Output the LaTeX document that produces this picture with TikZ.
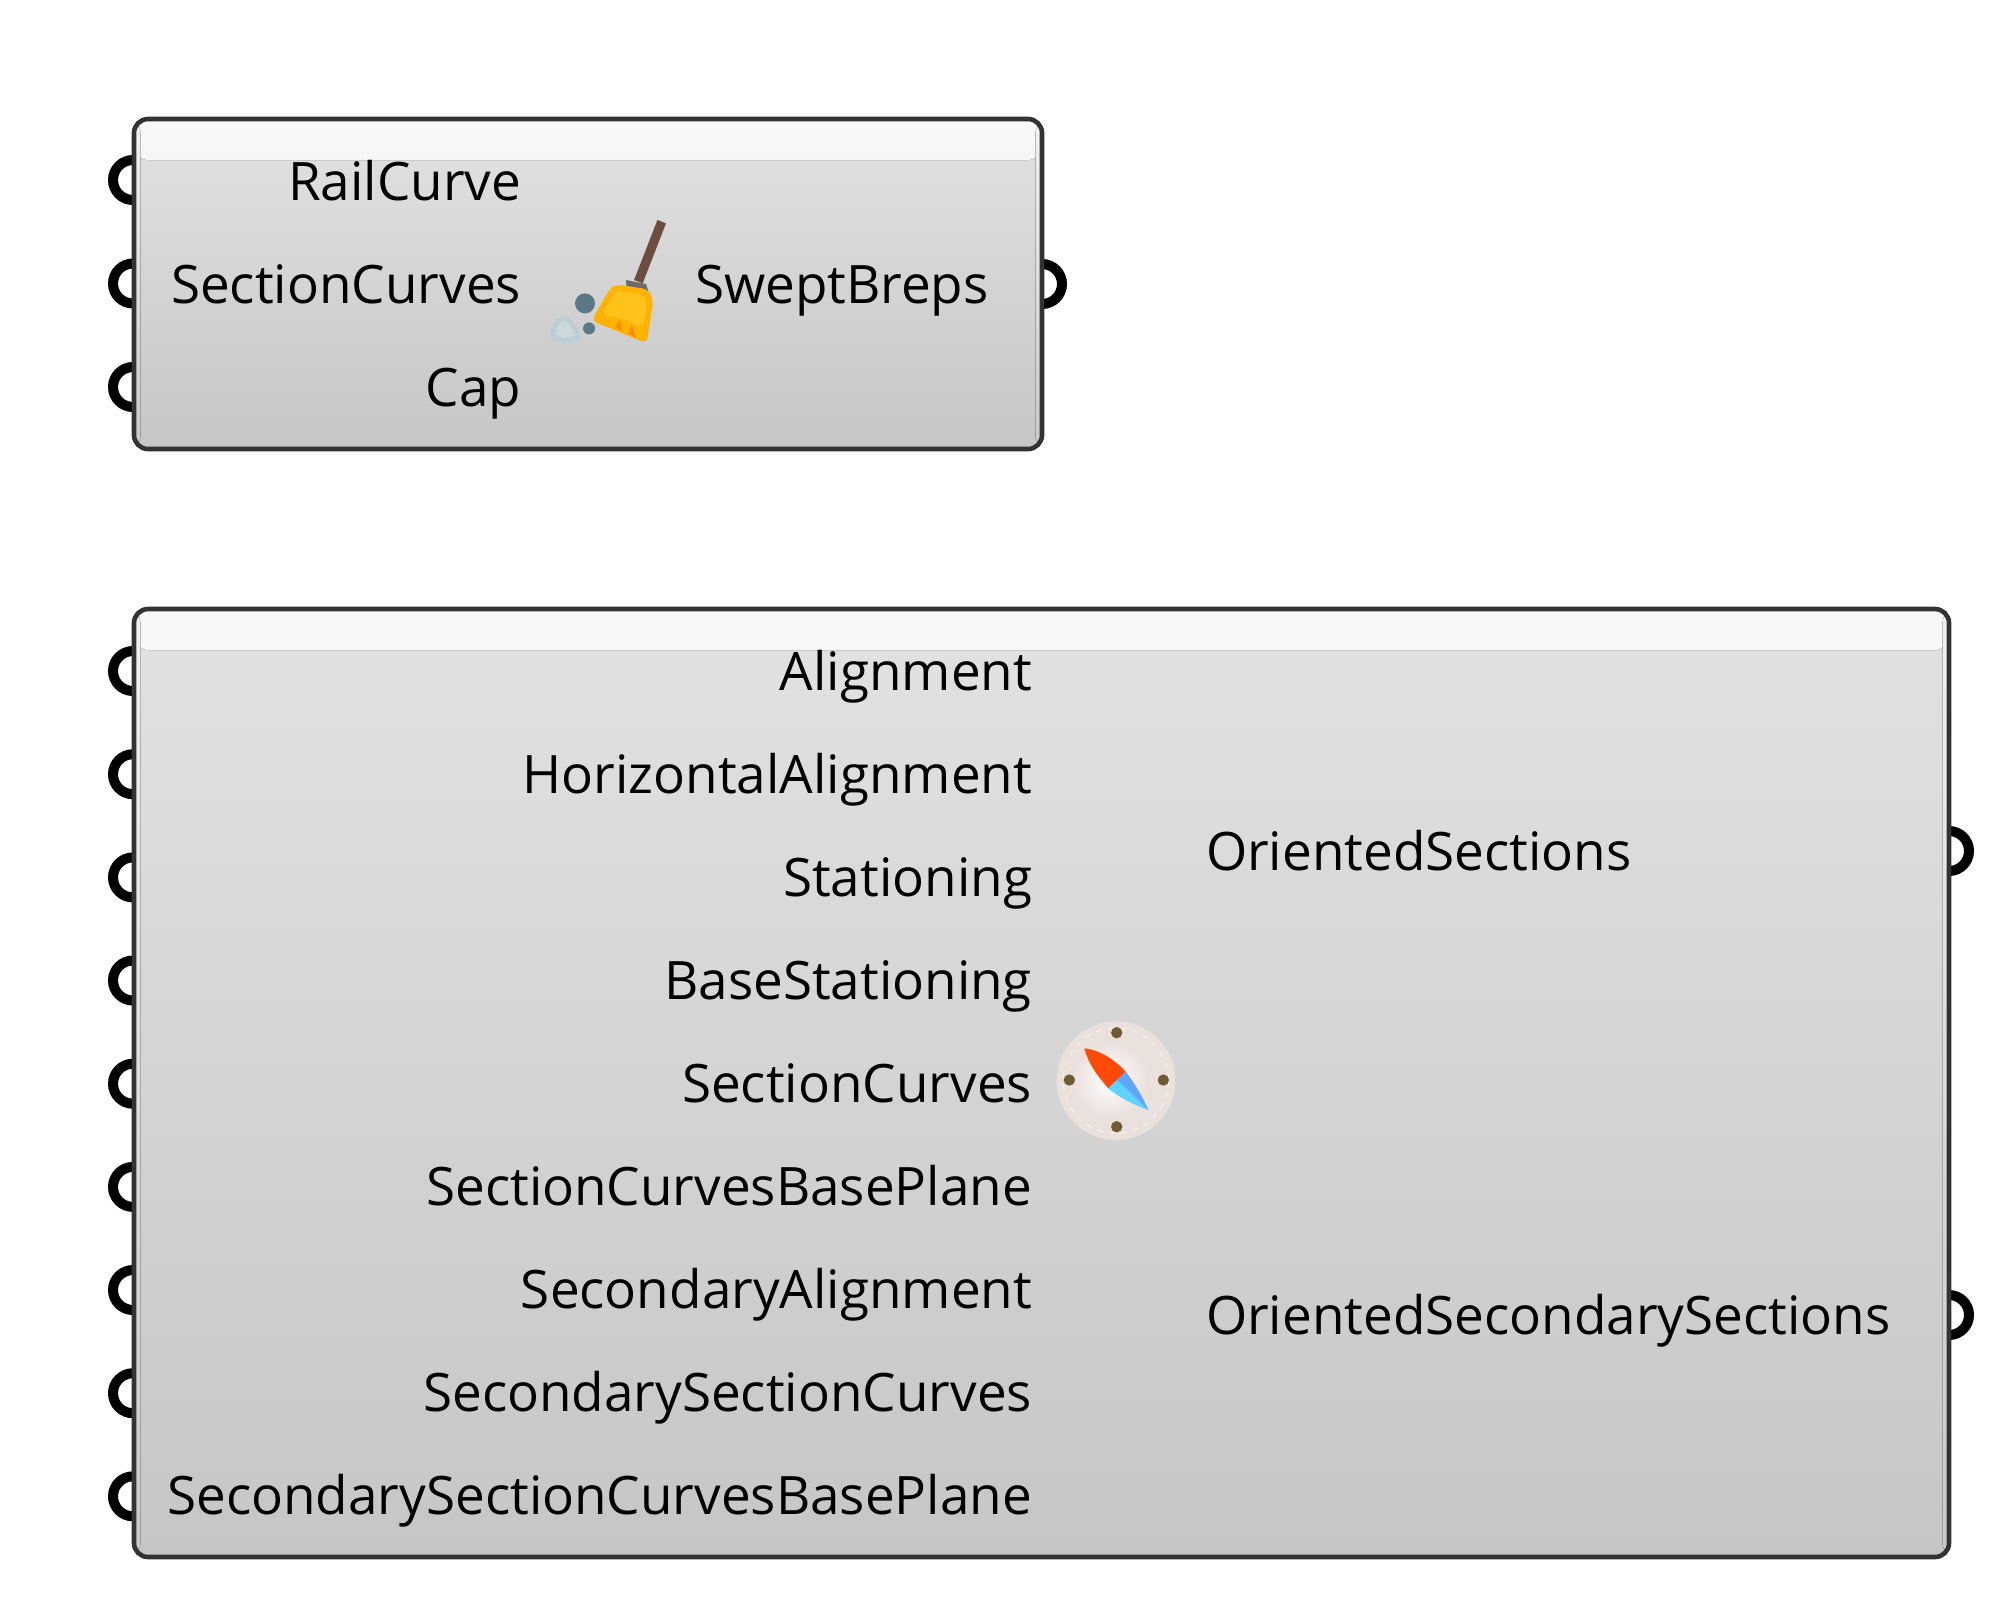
\documentclass[tikz,border=0pt]{standalone}
\usepackage{fontspec}
\setmainfont{Open Sans}
\definecolor{edgeC}{HTML}{333333}
\definecolor{gbodyTop}{HTML}{E2E2E2}
\definecolor{gbodyBot}{HTML}{C6C6C6}
\definecolor{bandTop}{HTML}{F8F8F8}
\definecolor{bandBot}{HTML}{E6E6E6}
\definecolor{sideTop}{HTML}{F2F2F2}
\definecolor{sideBot}{HTML}{C9C9C9}
\definecolor{handleC}{HTML}{6D4C41}
\definecolor{headC}{HTML}{FFB300}
\definecolor{headHi}{HTML}{FFC21A}
\definecolor{headLo}{HTML}{FB8C00}
\definecolor{capC}{HTML}{6E6A66}
\definecolor{dustC}{HTML}{5A7887}
\definecolor{blobC}{HTML}{BCCDD5}
\definecolor{blobIn}{HTML}{CBD8DE}
\definecolor{compC}{HTML}{EAE0DC}
\definecolor{ringC}{HTML}{F8F0EC}
\definecolor{dotC}{HTML}{6F5A35}
\definecolor{redC}{HTML}{FF4A08}
\definecolor{blueC}{HTML}{5CA6FF}
\definecolor{cyanC}{HTML}{5FD2FF}
\tikzset{
  x=0.5pt,y=-0.5pt,
  gbox/.style={rectangle,rounded corners=7pt,line width=2.3pt,draw=edgeC,inner sep=0pt,outer sep=0pt,
    top color=gbodyTop,bottom color=gbodyBot,
    path picture={
      \fill[top color=bandTop,bottom color=bandBot,middle color=bandTop!55!bandBot] (path picture bounding box.north west) rectangle ([yshift=-20.5pt]path picture bounding box.north east);
      \fill[top color=sideTop,bottom color=sideBot] (path picture bounding box.north west) rectangle ([xshift=3.2pt]path picture bounding box.south west);
      \fill[top color=sideTop,bottom color=sideBot] (path picture bounding box.north east) rectangle ([xshift=-3.2pt]path picture bounding box.south east);
    }},
  port/.style={circle,draw=black,line width=5pt,minimum size=20pt,inner sep=0pt,outer sep=0pt},
  lab/.style={font=\fontsize{26.5pt}{30pt}\selectfont,text=black,inner sep=0pt,outer sep=0pt,text height=19pt,text depth=5pt,yshift=-2.2pt},
  inlab/.style={lab,anchor=east},
  outlab/.style={lab,anchor=west},
}
\begin{document}
\begin{tikzpicture}
\useasboundingbox (0,0) rectangle (2000,1608);
% ports (half hidden by the boxes)
\foreach \n/\py in {a1/180,a2/283.5,a3/387}{\node[port] (\n) at (133,\py) {};}
\node[port] (aout) at (1042,284) {};
\foreach \n/\py in {b1/671,b2/774.2,b3/877.4,b4/980.5,b5/1083.7,b6/1186.9,b7/1290,b8/1393.2,b9/1496.3}{\node[port] (\n) at (133,\py) {};}
\node[port] (bout1) at (1949,851) {};
\node[port] (bout2) at (1949,1315) {};
% boxes
\node[gbox,minimum width=454pt,minimum height=165pt] (boxA) at (588,284) {};
\node[gbox,minimum width=907.5pt,minimum height=474pt] (boxB) at (1041.5,1083) {};
% labels box A
\node[inlab] (l1) at (521,182) {RailCurve};
\node[inlab] (l2) at (521,285) {SectionCurves};
\node[inlab] (l3) at (521,388) {Cap};
\node[outlab] (lo) at (695,285) {SweptBreps};
% labels box B
\node[inlab] (m1) at (1032,672) {Alignment};
\node[inlab] (m2) at (1032,775) {HorizontalAlignment};
\node[inlab] (m3) at (1032,878) {Stationing};
\node[inlab] (m4) at (1032,981) {BaseStationing};
\node[inlab] (m5) at (1032,1084) {SectionCurves};
\node[inlab] (m6) at (1032,1187) {SectionCurvesBasePlane};
\node[inlab] (m7) at (1032,1290) {SecondaryAlignment};
\node[inlab] (m8) at (1032,1393) {SecondarySectionCurves};
\node[inlab] (m9) at (1032,1496) {SecondarySectionCurvesBasePlane};
\node[outlab] (mo1) at (1206,852) {OrientedSections};
\node[outlab] (mo2) at (1206,1316) {OrientedSecondarySections};
% broom icon
\begin{scope}[shift={(520,200)},x=0.1667pt,y=-0.1667pt]
  \draw[line width=4.6pt,color=handleC] (425,65) -- (355,245);
  \fill[color=blobC,rounded corners=5pt] (82,388) -- (135,335) -- (188,405) -- (178,428) -- (100,428) -- cycle;
  \fill[color=blobIn,rounded corners=4pt] (102,388) -- (135,352) -- (168,402) -- (160,414) -- (110,414) -- cycle;
  \fill[color=dustC] (195,310) circle[radius=30];
  \fill[color=dustC] (207,385) circle[radius=18];
  \fill[color=capC] (318,240) -- (378,252) -- (385,275) -- (320,262) -- cycle;
  \fill[color=headC,rounded corners=3pt] (290,253) -- (385,268) -- (400,300) -- (380,430) -- (320,405) -- (215,362) -- (270,265) -- cycle;
  \fill[color=headHi,rounded corners=3pt] (295,272) -- (372,285) -- (382,305) -- (368,385) -- (320,360) -- (245,345) -- (282,280) -- cycle;
  \fill[color=headLo] (285,380) -- (300,360) -- (308,395) -- cycle;
  \fill[color=headLo] (325,400) -- (335,372) -- (348,415) -- cycle;
\end{scope}
% compass icon
\begin{scope}[shift={(1030,1000)},x=0.1667pt,y=-0.1667pt]
  \fill[color=compC] (258,242) circle[radius=178];
  \draw[color=ringC,line width=.6pt,dashed] (258,242) circle[radius=158];
  \shade[inner color=white,outer color=compC] (240,240) circle[radius=115];
  \foreach \dx/\dy in {260/98,118/240,400/240,260/380}{\fill[color=dotC] (\dx,\dy) circle[radius=17];}
  \fill[color=redC] (163,145) .. controls (215,150) and (260,185) .. (287,215) -- (235,265) .. controls (200,225) and (175,190) .. cycle;
  \fill[color=blueC] (287,215) .. controls (315,250) and (340,295) .. (355,330) -- (235,265) -- cycle;
  \fill[color=cyanC] (262,240) -- (355,330) .. controls (315,315) and (270,295) .. (235,265) -- cycle;
\end{scope}
\end{tikzpicture}
\end{document}
